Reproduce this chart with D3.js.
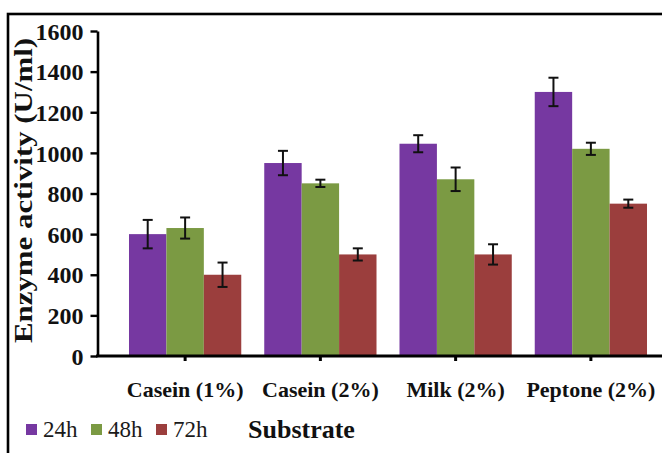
<!DOCTYPE html>
<html>
<head>
<meta charset="utf-8">
<script src="https://cdn.jsdelivr.net/npm/d3@7"></script>
<style>
  html, body { margin: 0; padding: 0; background: #fff; }
  svg { display: block; }
</style>
</head>
<body>
<div class="bar-chart-container"></div>
<script>
'use strict'
// Data.
const categories = ['Casein (1%)', 'Casein (2%)', 'Milk (2%)', 'Peptone (2%)'];
const seriesNames = ['24h', '48h', '72h'];
const values24h = [600, 950, 1045, 1300];
const values48h = [630, 850, 870, 1020];
const values72h = [400, 500, 500, 750];
const errors24h = [70, 60, 42, 70];
const errors48h = [52, 18, 58, 30];
const errors72h = [60, 30, 50, 20];
const yTicks = [0, 200, 400, 600, 800, 1000, 1200, 1400, 1600];

const colors = ['#7638a1', '#7b9a43', '#9b3e3d'];

function prepareData() {
  const vals = [values24h, values48h, values72h];
  const errs = [errors24h, errors48h, errors72h];
  const out = [];
  categories.forEach((c, i) => {
    seriesNames.forEach((s, j) => {
      out.push({ category: c, series: s, value: vals[j][i], err: errs[j][i] });
    });
  });
  return out;
}

function main() {
  const data = prepareData();
  const W = 662, H = 453;
  const font = '"Liberation Serif", "Times New Roman", serif';

  const svg = d3.select('.bar-chart-container')
    .append('svg')
    .attr('width', W)
    .attr('height', H)
    .style('font-family', font);

  // outer frame (cropped by the image edge)
  svg.append('rect')
    .attr('x', 8).attr('y', 14)
    .attr('width', 700).attr('height', 500)
    .attr('fill', 'none')
    .attr('stroke', '#000')
    .attr('stroke-width', 2.6);

  // SCALES
  const yScale = d3.scaleLinear([0, 1600], [356, 31]);
  const xScale = d3.scaleBand(categories, [117.5, 658.5])
    .paddingInner(0.17)
    .paddingOuter(0.085);
  const xSub = d3.scaleBand(seriesNames, [0, xScale.bandwidth()]);
  const color = d3.scaleOrdinal(seriesNames, colors);

  // DRAW BARS
  svg.append('g')
    .selectAll('.bar')
    .data(data)
    .enter()
    .append('rect')
    .attr('class', 'bar')
    .attr('x', d => xScale(d.category) + xSub(d.series))
    .attr('y', d => yScale(d.value))
    .attr('width', xSub.bandwidth())
    .attr('height', d => yScale(0) - yScale(d.value))
    .style('fill', d => color(d.series));

  // ERROR BARS
  const errG = svg.append('g')
    .attr('stroke', '#111')
    .attr('stroke-width', 2);
  data.forEach(d => {
    const cx = xScale(d.category) + xSub(d.series) + xSub.bandwidth() / 2;
    const y1 = yScale(d.value + d.err), y2 = yScale(d.value - d.err);
    errG.append('line').attr('x1', cx).attr('x2', cx).attr('y1', y1).attr('y2', y2);
    errG.append('line').attr('x1', cx - 5).attr('x2', cx + 5).attr('y1', y1).attr('y2', y1);
    errG.append('line').attr('x1', cx - 5).attr('x2', cx + 5).attr('y1', y2).attr('y2', y2);
  });

  // Y AXIS
  const yAxis = d3.axisLeft(yScale)
    .tickValues(yTicks)
    .tickFormat(d3.format('d'))
    .tickSizeInner(7)
    .tickSizeOuter(0)
    .tickPadding(7);
  const yAxisDraw = svg.append('g')
    .attr('class', 'y axis')
    .attr('transform', 'translate(97.5,0)')
    .call(yAxis);
  yAxisDraw.select('.domain').attr('stroke', '#000').attr('stroke-width', 2.6);
  yAxisDraw.selectAll('.tick line').attr('stroke', '#000').attr('stroke-width', 2.4);
  yAxisDraw.selectAll('text')
    .attr('dy', '0.34em')
    .style('font-family', font)
    .style('font-size', '24px')
    .style('font-weight', 'bold')
    .attr('fill', '#111');

  // X AXIS
  const xAxisG = svg.append('g').attr('class', 'x axis');
  xAxisG.append('line')
    .attr('x1', 96).attr('x2', W)
    .attr('y1', 356).attr('y2', 356)
    .attr('stroke', '#000')
    .attr('stroke-width', 3);
  xAxisG.selectAll('.xtick')
    .data(categories)
    .enter()
    .append('line')
    .attr('x1', d => xScale(d) + xScale.bandwidth() / 2)
    .attr('x2', d => xScale(d) + xScale.bandwidth() / 2)
    .attr('y1', 356).attr('y2', 361)
    .attr('stroke', '#000')
    .attr('stroke-width', 3);
  xAxisG.selectAll('.xlabel')
    .data(categories)
    .enter()
    .append('text')
    .attr('x', d => xScale(d) + xScale.bandwidth() / 2)
    .attr('y', 397)
    .attr('text-anchor', 'middle')
    .style('font-size', '22px')
    .style('font-weight', 'bold')
    .attr('fill', '#111')
    .text(d => d);

  // Y TITLE
  svg.append('text')
    .attr('transform', 'translate(32,190.5) rotate(-90)')
    .attr('text-anchor', 'middle')
    .attr('textLength', 305)
    .attr('lengthAdjust', 'spacingAndGlyphs')
    .style('font-size', '25px')
    .style('font-weight', 'bold')
    .attr('fill', '#111')
    .text('Enzyme activity (U/ml)');

  // X TITLE
  svg.append('text')
    .attr('x', 248).attr('y', 438)
    .style('font-size', '26px')
    .style('font-weight', 'bold')
    .attr('fill', '#111')
    .text('Substrate');

  // LEGEND
  const legendX = [26, 91, 156];
  const legend = svg.append('g').attr('class', 'legend');
  seriesNames.forEach((s, i) => {
    legend.append('rect')
      .attr('x', legendX[i]).attr('y', 424)
      .attr('width', 11).attr('height', 11)
      .attr('fill', color(s));
    legend.append('text')
      .attr('x', legendX[i] + 17).attr('y', 437)
      .style('font-size', '23px')
      .attr('fill', '#1a1a1a')
      .text(s);
  });
}

main();
</script>
</body>
</html>
